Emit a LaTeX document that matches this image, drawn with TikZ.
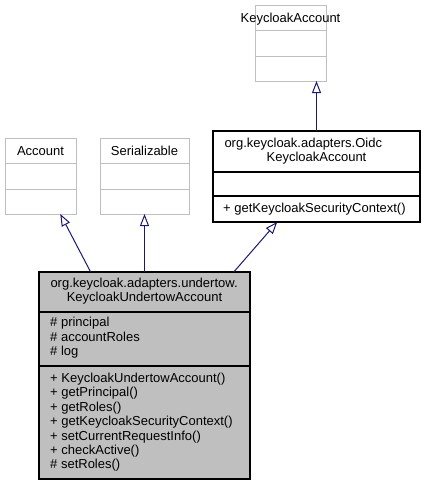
\documentclass[tikz,border=0pt]{standalone}
\usepackage{fontspec}
\setmainfont{Liberation Sans}
\usetikzlibrary{arrows.meta}
\definecolor{edgeblue}{HTML}{191970}
\definecolor{boxgrey}{HTML}{BFBFBF}

\begin{document}
\begin{tikzpicture}[x=1pt,y=-1pt,font=\fontsize{13}{14.45}\selectfont,
    extclass/.style={draw=boxgrey,fill=white,line width=1pt,inner sep=0pt,outer sep=0pt},
    docclass/.style={draw=black,line width=1.3pt,inner sep=0pt,outer sep=0pt},
    members/.style={anchor=north west,inner sep=0pt,align=left},
    inherit/.style={draw=edgeblue,line width=1pt,-{Triangle[open,length=12pt,width=9pt,fill=white]}}]
    \useasboundingbox (0,0) rectangle (425,485);
    % class boxes
    \node[extclass,minimum width=71,minimum height=76] (KA) at (290.5,43) {};
    \node[extclass,minimum width=71,minimum height=76] (account) at (40.5,176) {};
    \node[extclass,minimum width=89,minimum height=76] (serial) at (144.5,176) {};
    \node[docclass,fill=white,minimum width=207,minimum height=91] (oidc) at (316.5,176.5) {};
    \node[docclass,fill=boxgrey,minimum width=211,minimum height=207] (main) at (144.5,375.5) {};
    % compartments
    \draw[boxgrey,line width=1pt] ([yshift=-25.5pt]KA.north west) -- ([yshift=-25.5pt]KA.north east);
    \draw[boxgrey,line width=1pt] ([yshift=-51pt]KA.north west) -- ([yshift=-51pt]KA.north east);
    \draw[boxgrey,line width=1pt] ([yshift=-25.5pt]account.north west) -- ([yshift=-25.5pt]account.north east);
    \draw[boxgrey,line width=1pt] ([yshift=-51pt]account.north west) -- ([yshift=-51pt]account.north east);
    \draw[boxgrey,line width=1pt] ([yshift=-25.5pt]serial.north west) -- ([yshift=-25.5pt]serial.north east);
    \draw[boxgrey,line width=1pt] ([yshift=-51pt]serial.north west) -- ([yshift=-51pt]serial.north east);
    \draw[line width=1.3pt] ([yshift=-41pt]oidc.north west) -- ([yshift=-41pt]oidc.north east);
    \draw[line width=1.3pt] ([yshift=-65pt]oidc.north west) -- ([yshift=-65pt]oidc.north east);
    \draw[line width=1.3pt] ([yshift=-40pt]main.north west) -- ([yshift=-40pt]main.north east);
    \draw[line width=1.3pt] ([yshift=-94pt]main.north west) -- ([yshift=-94pt]main.north east);
    % names
    \node[anchor=base,inner sep=0pt] (KAname) at (290.5,22.5) {KeycloakAccount};
    \node[anchor=base,inner sep=0pt] (accountname) at (40.5,155.7) {Account};
    \node[anchor=base,inner sep=0pt] (serialname) at (144.5,155.7) {Serializable};
    \node[anchor=north,inner sep=0pt,text width=184pt,align=center] (oidcname) at (316.5,136.9)
        {\strut org.keycloak.adapters.Oidc\hfill\null\\KeycloakAccount};
    \node[anchor=north,inner sep=0pt,text width=188pt,align=center] (mainname) at (144.5,276.9)
        {\strut org.keycloak.adapters.undertow.\hfill\null\\KeycloakUndertowAccount};
    % members
    \node[members] (oidcops) at (223,202.2) {\strut + getKeycloakSecurityContext()};
    \node[members] (mainattrs) at (50,316.6) {\strut\# principal\\\# accountRoles\\\# log};
    \node[members] (mainops) at (50,371.9) {\strut + KeycloakUndertowAccount()\\+ getPrincipal()\\+ getRoles()\\+ getKeycloakSecurityContext()\\+ setCurrentRequestInfo()\\+ checkActive()\\\# setRoles()};
    % inheritance
    \path (main) edge[inherit] (account);
    \path (main) edge[inherit] (serial);
    \path (main) edge[inherit] (oidc);
    \path (oidc.north) edge[inherit] (oidc.north |- KA.south);
\end{tikzpicture}
\end{document}
